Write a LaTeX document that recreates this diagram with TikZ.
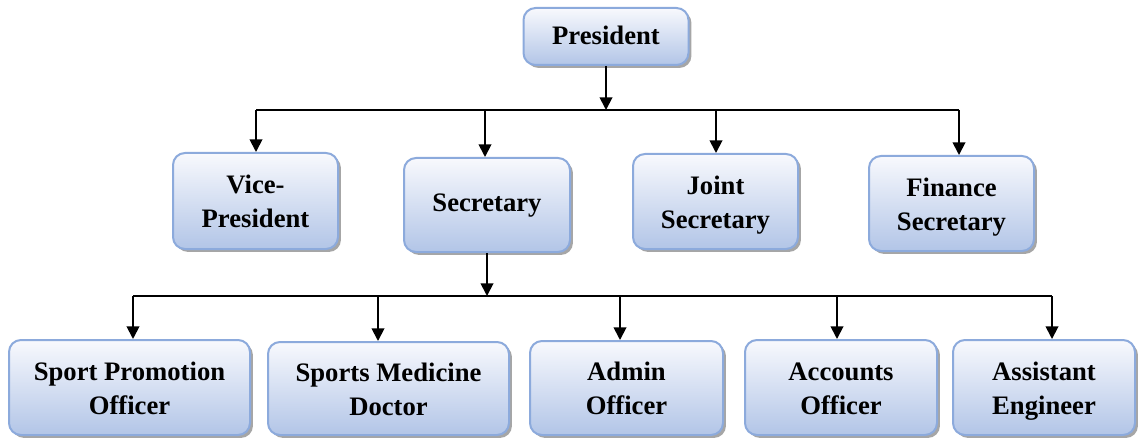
\documentclass[tikz,border=0pt]{standalone}
\usepackage{fontspec}
\setmainfont{Liberation Serif}
\usetikzlibrary{arrows.meta,shadows}
\definecolor{bordblue}{RGB}{140,170,220}
\definecolor{topfill}{RGB}{248,249,253}
\definecolor{botfill}{RGB}{178,197,231}
\newcommand\orgtop[1]{\rule{0pt}{#1}}
\newcommand\orgbot{\rule[-7.6pt]{0pt}{7.6pt}}
\tikzset{
  orgbox/.style={draw=bordblue, line width=1.5pt, rounded corners=9pt,
    top color=topfill, bottom color=botfill, align=center,
    inner sep=0pt,
    font=\bfseries\fontsize{20}{25.5}\selectfont,
    drop shadow={shadow xshift=2.2pt, shadow yshift=-2.2pt, fill=black!50, opacity=0.7}},
  conn/.style={line width=1.4pt, black},
  arr/.style={conn, -{Triangle[length=9.5pt,width=9.5pt]}}
}
\begin{document}
\begin{tikzpicture}[x=0.75pt,y=-0.75pt]
\useasboundingbox (0,0) rectangle (1141,442);
% level 1
\node[orgbox, minimum width=165*0.75pt, minimum height=57*0.75pt] (pres) at (606,36.5) {\orgtop{20pt}President\orgbot};
% level 2
\node[orgbox, minimum width=165*0.75pt, minimum height=96*0.75pt] (vp) at (255.5,201) {\orgtop{22.5pt}Vice-\\President\orgbot};
\node[orgbox, minimum width=166*0.75pt, minimum height=94*0.75pt] (sec) at (487,205) {\orgtop{17.9pt}Secretary\orgbot};
\node[orgbox, minimum width=165*0.75pt, minimum height=95*0.75pt] (jsec) at (715.5,201.5) {\orgtop{22.5pt}Joint\\Secretary\orgbot};
\node[orgbox, minimum width=165*0.75pt, minimum height=95*0.75pt] (fsec) at (951.5,203.5) {\orgtop{22.5pt}Finance\\Secretary\orgbot};
% level 3
\node[orgbox, minimum width=241*0.75pt, minimum height=95*0.75pt] (spo) at (129.5,387.5) {\orgtop{22.5pt}Sport Promotion\\Officer\orgbot};
\node[orgbox, minimum width=241*0.75pt, minimum height=93*0.75pt] (smd) at (388.5,388.5) {\orgtop{22.5pt}Sports Medicine\\Doctor\orgbot};
\node[orgbox, minimum width=193*0.75pt, minimum height=94*0.75pt] (adm) at (626.5,388) {\orgtop{22.5pt}Admin\\Officer\orgbot};
\node[orgbox, minimum width=192*0.75pt, minimum height=95*0.75pt] (acc) at (841,387.5) {\orgtop{22.5pt}Accounts\\Officer\orgbot};
\node[orgbox, minimum width=182*0.75pt, minimum height=95*0.75pt] (ae) at (1044,387.5) {\orgtop{22.5pt}Assistant\\Engineer\orgbot};
% junction coordinates
\coordinate (j1) at (606,110);
\coordinate (l1a) at (256,110);
\coordinate (l1b) at (485,110);
\coordinate (l1c) at (716,110);
\coordinate (l1d) at (959,110);
\coordinate (j2) at (487,296);
\coordinate (l2a) at (133,296);
\coordinate (l2b) at (378,296);
\coordinate (l2c) at (620,296);
\coordinate (l2d) at (837,296);
\coordinate (l2e) at (1052,296);
% connectors level 1-2
\draw[arr] (pres.south) -- (j1);
\draw[conn] (l1a) -- (l1d);
\draw[arr] (l1a) -- (l1a |- vp.north);
\draw[arr] (l1b) -- (l1b |- sec.north);
\draw[arr] (l1c) -- (l1c |- jsec.north);
\draw[arr] (l1d) -- (l1d |- fsec.north);
% connectors level 2-3
\draw[arr] (sec.south) -- (j2);
\draw[conn] (l2a) -- (l2e);
\draw[arr] (l2a) -- (l2a |- spo.north);
\draw[arr] (l2b) -- (l2b |- smd.north);
\draw[arr] (l2c) -- (l2c |- adm.north);
\draw[arr] (l2d) -- (l2d |- acc.north);
\draw[arr] (l2e) -- (l2e |- ae.north);
\end{tikzpicture}
\end{document}
